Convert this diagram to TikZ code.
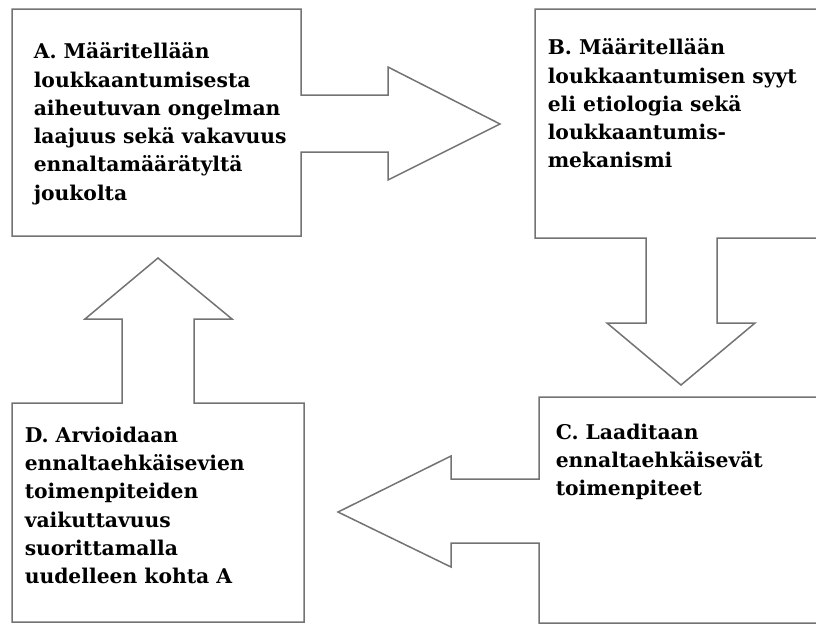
\documentclass[tikz,border=0pt]{standalone}
\usepackage{fontspec}
\setmainfont{DejaVu Serif}
\begin{document}
\begin{tikzpicture}[x=1pt,y=-1pt,line width=1.5pt,
  blockline/.style={draw=black!55,line join=miter,fill=white},
  steptext/.style={anchor=north west,inner sep=0pt,align=left,
    font=\fontsize{20.3}{28.3}\selectfont\bfseries}]
 \useasboundingbox (0,0) rectangle (816,625);
 \clip (0,0) rectangle (816,625);
 %% A: box with arrow to the right
 \draw[blockline] (12,9) -- (301,9) -- (301,95) -- (388,95) -- (388,67) -- (500,124)
   -- (388,180) -- (388,152) -- (301,152) -- (301,236) -- (12,236) -- cycle;
 %% B: box with arrow down (runs off the right edge)
 \draw[blockline] (535,9) -- (830,9) -- (830,238) -- (717,238) -- (717,323) -- (755,323)
   -- (681,385) -- (607,323) -- (646,323) -- (646,238) -- (535,238) -- cycle;
 %% C: box with arrow to the left
 \draw[blockline] (539,397) -- (830,397) -- (830,623) -- (539,623) -- (539,543) -- (451,543)
   -- (451,567) -- (338,512) -- (451,456) -- (451,479) -- (539,479) -- cycle;
 %% D: box with arrow up
 \draw[blockline] (12,403) -- (122,403) -- (122,319) -- (85,319) -- (158,258) -- (232,319)
   -- (194,319) -- (194,403) -- (304,403) -- (304,622) -- (12,622) -- cycle;
 %% texts
 \node[steptext] (stepA) at (33,42) {A. Määritellään\\loukkaantumisesta\\aiheutuvan ongelman\\laajuus sekä vakavuus\\ennaltamäärätyltä\\joukolta};
 \node[steptext] (stepB) at (547,38) {B. Määritellään\\loukkaantumisen syyt\\eli etiologia sekä\\loukkaantumis-\\mekanismi};
 \node[steptext] (stepC) at (555,423) {C. Laaditaan\\ennaltaehkäisevät\\toimenpiteet};
 \node[steptext] (stepD) at (24,426) {D. Arvioidaan\\ennaltaehkäisevien\\toimenpiteiden\\vaikuttavuus\\suorittamalla\\uudelleen kohta A};
\end{tikzpicture}
\end{document}
